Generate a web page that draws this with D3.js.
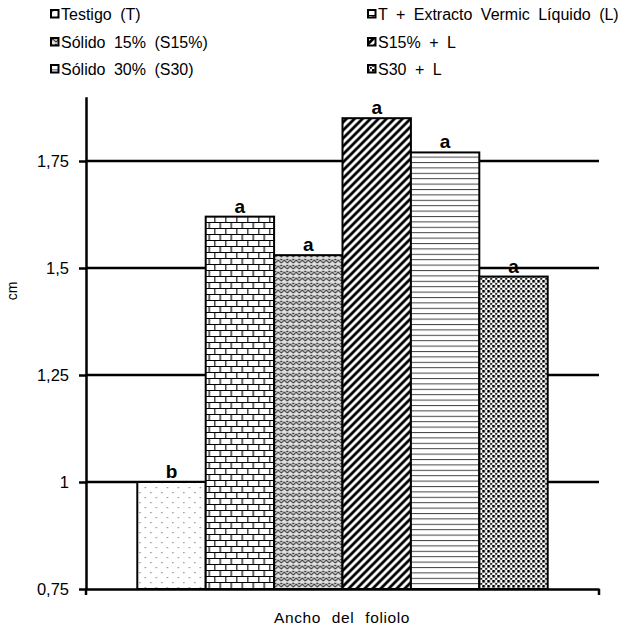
<!DOCTYPE html>
<html><head><meta charset="utf-8">
<script src="https://cdn.jsdelivr.net/npm/d3@7"></script>
<style>body{margin:0;background:#fff}svg{display:block;font-family:"Liberation Sans",Arial,sans-serif}</style>
</head><body><svg id="c" width="643" height="628"></svg>
<script>
const categories = ["Ancho del foliolo"];
const series = ["Testigo (T)", "T + Extracto Vermic Líquido (L)", "Sólido 15% (S15%)", "S15% + L", "Sólido 30% (S30)", "S30 + L"];
const values = [1.0, 1.62, 1.53, 1.85, 1.77, 1.48];
const letters = ["b", "a", "a", "a", "a", "a"];
const yTicks = [0.75, 1, 1.25, 1.5, 1.75];
const patternIds = ["pDots", "pBrick", "pWeave", "pDiag", "pHoriz", "pDense"];

const svg = d3.select("#c");
const defs = svg.append("defs");
function pat(id, w, h) {
  const p = defs.append("pattern").attr("id", id).attr("patternUnits", "userSpaceOnUse").attr("width", w).attr("height", h);
  p.append("rect").attr("width", w).attr("height", h).attr("fill", "#fff");
  return p;
}
// sparse dots
let p = pat("pDots", 11, 10);
p.append("rect").attr("x", 2).attr("y", 2).attr("width", 1.2).attr("height", 1.2).attr("fill", "#777");
p.append("rect").attr("x", 7.5).attr("y", 7).attr("width", 1.2).attr("height", 1.2).attr("fill", "#777");
// brick
p = pat("pBrick", 11, 12);
p.append("path").attr("d", "M0,0.5H11M0,6.5H11M0.5,0.5V6.5M6,6.5V12").attr("stroke", "#000").attr("stroke-width", 1.2).attr("fill", "none");
// weave / chevrons
p = pat("pWeave", 6, 6);
p.append("rect").attr("width", 6).attr("height", 6).attr("fill", "#e0e0e0");
p.append("path").attr("d", "M0,5L3,2L6,5M0,2L1,1M5,1L6,2").attr("stroke", "#3a3a3a").attr("stroke-width", 1.1).attr("fill", "none");
// diagonal
p = pat("pDiag", 8, 8);
p.append("path").attr("d", "M-2,2L2,-2M0,8L8,0M6,10L10,6").attr("stroke", "#000").attr("stroke-width", 2.8);
// horizontal
p = pat("pHoriz", 8, 5.4);
p.append("line").attr("x1", 0).attr("x2", 8).attr("y1", 0.5).attr("y2", 0.5).attr("stroke", "#444").attr("stroke-width", 1);
// dense dots
p = pat("pDense", 5, 5);
p.append("rect").attr("x", 0).attr("y", 0).attr("width", 2.6).attr("height", 2.6).attr("fill", "#000");
p.append("rect").attr("x", 2.9).attr("y", 2.9).attr("width", 1.9).attr("height", 1.9).attr("fill", "#000");

const y = d3.scaleLinear().domain([0.75, 1.9]).range([589, 96.8]);
const x0 = d3.scaleBand().domain(categories).range([86, 599]).paddingInner(0.2).paddingOuter(0.1);
const x1 = d3.scaleBand().domain(series).range([0, x0.bandwidth()]);

// gridlines
svg.append("g").selectAll("line").data(yTicks.filter(t => t > 0.75)).join("line")
  .attr("x1", 86).attr("x2", 599).attr("y1", d => y(d)).attr("y2", d => y(d))
  .attr("stroke", "#000").attr("stroke-width", 2.5);

// bars
const g = svg.append("g").attr("transform", `translate(${x0(categories[0])},0)`);
g.selectAll("rect").data(series).join("rect")
  .attr("x", d => x1(d)).attr("width", x1.bandwidth())
  .attr("y", (d, i) => y(values[i])).attr("height", (d, i) => y(0.75) - y(values[i]))
  .attr("fill", (d, i) => `url(#${patternIds[i]})`).attr("stroke", "#000").attr("stroke-width", 2);
g.selectAll("text").data(series).join("text")
  .attr("x", d => x1(d) + x1.bandwidth() / 2).attr("y", (d, i) => y(values[i]) - 4)
  .attr("text-anchor", "middle").attr("font-size", 19).attr("font-weight", "bold").text((d, i) => letters[i]);

// y axis
const ya = svg.append("g").attr("transform", "translate(86,0)")
  .call(d3.axisLeft(y).tickValues(yTicks).tickSize(7).tickSizeOuter(0).tickFormat(d => String(d).replace(".", ",")));
ya.select(".domain").attr("stroke-width", 2.5);
ya.selectAll(".tick line").attr("stroke-width", 2.5);
ya.selectAll(".tick text").attr("font-size", 16.5).attr("font-family", "Liberation Sans, Arial").attr("fill", "#000").attr("x", -17);
ya.append("line").attr("x1", 0).attr("x2", 0).attr("y1", 589).attr("y2", 595).attr("stroke", "#000").attr("stroke-width", 2.5);

// x axis
const xa = svg.append("g").attr("transform", "translate(0,589)")
  .call(d3.axisBottom(x0).tickValues([]).tickSizeOuter(0));
xa.select(".domain").attr("stroke-width", 2.5);
svg.append("line").attr("x1", 599).attr("x2", 599).attr("y1", 589).attr("y2", 595).attr("stroke", "#000").attr("stroke-width", 2.5);
svg.append("text").attr("x", 342).attr("y", 623).attr("text-anchor", "middle").attr("font-size", 15.5)
  .attr("word-spacing", 6).attr("letter-spacing", 0.6).text(categories[0]);
svg.append("text").attr("transform", "translate(17,291) rotate(-90)").attr("text-anchor", "middle").attr("font-size", 14).text("cm");

// legend
const lg = svg.append("g").selectAll("g").data(series).join("g")
  .attr("transform", (d, i) => `translate(${i % 2 === 0 ? 50 : 367},${[9, 37, 64][Math.floor(i / 2)]})`);
lg.append("rect").attr("x", 1).attr("y", 1).attr("width", 7.5).attr("height", 7.5)
  .attr("fill", (d, i) => `url(#${patternIds[i]})`).attr("stroke", "#000").attr("stroke-width", 2);
lg.append("text").attr("x", 11).attr("y", 11).attr("font-size", 16).attr("word-spacing", 4).text(d => d);
</script></body></html>
